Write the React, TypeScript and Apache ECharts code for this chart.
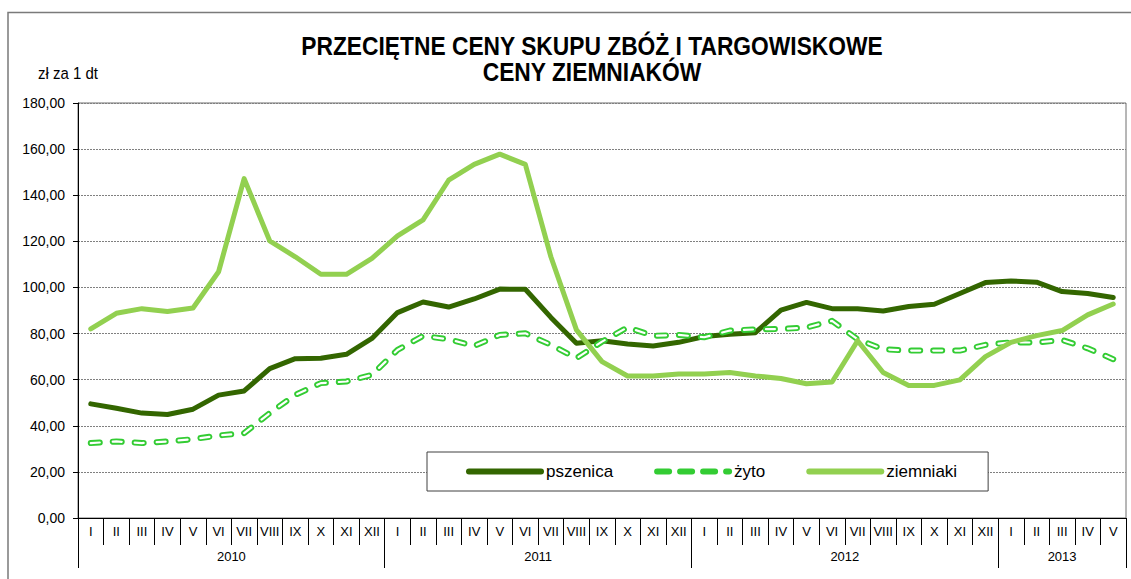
import React, { useEffect, useRef } from "react";
import * as echarts from "echarts";

const FONT = '"Liberation Sans", Arial, sans-serif';

const months = [
  "I", "II", "III", "IV", "V", "VI", "VII", "VIII", "IX", "X", "XI", "XII",
  "I", "II", "III", "IV", "V", "VI", "VII", "VIII", "IX", "X", "XI", "XII",
  "I", "II", "III", "IV", "V", "VI", "VII", "VIII", "IX", "X", "XI", "XII",
  "I", "II", "III", "IV", "V",
];
const years = ["2010", "2011", "2012", "2013"];
const monthsPerYear = [12, 12, 12, 5];

const pszenica = [
  49.5, 47.6, 45.5, 44.9, 47.2, 53.3, 55.1, 64.8, 69.1, 69.3, 71.0, 77.9,
  89.1, 93.7, 91.5, 95.0, 99.3, 99.2, 87.0, 75.8, 76.9, 75.5, 74.6, 76.2,
  78.7, 79.7, 80.4, 90.2, 93.5, 90.8, 90.8, 89.8, 91.7, 92.7, 97.4, 102.1,
  102.8, 102.3, 98.2, 97.4, 95.6,
];
const zyto = [
  32.5, 33.2, 32.5, 33.2, 34.2, 35.8, 36.8, 45.5, 53.4, 58.5, 59.2, 62.1,
  72.9, 79.0, 77.5, 74.6, 79.4, 80.1, 75.1, 69.3, 76.5, 82.7, 79.0, 79.4,
  78.4, 81.3, 81.8, 82.0, 82.6, 85.5, 77.5, 73.2, 72.6, 72.6, 72.6, 75.1,
  76.2, 76.1, 77.2, 73.6, 68.9,
];
const ziemniaki = [
  82.0, 88.8, 90.8, 89.6, 91.1, 106.8, 147.2, 120.2, 113.3, 105.7, 105.7, 112.6,
  122.4, 129.3, 146.5, 153.4, 157.8, 153.4, 113.3, 81.6, 67.8, 61.6, 61.6, 62.5,
  62.5, 63.1, 61.6, 60.5, 58.2, 59.0, 76.9, 63.1, 57.5, 57.5, 59.9, 70.0,
  76.2, 79.1, 81.3, 88.1, 92.8,
];

const seriesNames = ["pszenica", "żyto", "ziemniaki"];
const colors = ["#336600", "#33cc33", "#92d050"];
const titleLines = ["PRZECIĘTNE CENY SKUPU ZBÓŻ I TARGOWISKOWE", "CENY ZIEMNIAKÓW"];
const unitLabel = "zł za 1 dt";

export default function App() {
  const ref = useRef<HTMLDivElement>(null);

  useEffect(() => {
    if (!ref.current) return;
    const chart = echarts.init(ref.current, undefined, { renderer: "svg" });

    const yearOfMonth: string[] = [];
    const yearStarts: number[] = [];
    const yearMid: Record<number, boolean> = {};
    let idx = 0;
    years.forEach((y, k) => {
      yearStarts.push(idx);
      const n = monthsPerYear[k];
      yearMid[idx + Math.floor(n / 2) - (n % 2 === 0 ? 1 : 0)] = true;
      for (let i = 0; i < n; i++) yearOfMonth.push(y);
      idx += n;
    });
    const evenYear: Record<number, boolean> = {};
    years.forEach((_, k) => {
      if (monthsPerYear[k] % 2 === 0) evenYear[k] = true;
    });

    const titleStyle = (text: string) => ({
      text,
      align: "center",
      verticalAlign: "middle",
      fontSize: 22.8,
      fontWeight: "bold",
      fontFamily: FONT,
      fill: "#000",
    });

    const option: any = {
      animation: false,
      backgroundColor: "#ffffff",
      textStyle: { fontFamily: FONT },
      grid: {
        left: 78,
        right: 5,
        top: 103,
        bottom: 61,
        show: true,
        borderColor: "#6e6e6e",
        borderWidth: 1,
        backgroundColor: "transparent",
      },
      graphic: [
        {
          type: "rect",
          shape: { x: 8, y: 12.5, width: 1300, height: 800 },
          style: { fill: "none", stroke: "#7a7a7a", lineWidth: 1.5 },
          silent: true,
          z: -1,
        },
        { type: "text", x: 592, y: 46, scaleY: 1.12, style: titleStyle(titleLines[0]) },
        { type: "text", x: 592, y: 72, scaleY: 1.12, style: titleStyle(titleLines[1]) },
        {
          type: "text",
          x: 38,
          y: 73,
          scaleY: 1.1,
          style: {
            text: unitLabel,
            align: "left",
            verticalAlign: "middle",
            fontSize: 15,
            fontFamily: FONT,
            fill: "#000",
          },
        },
      ],
      legend: {
        data: [
          { name: seriesNames[0] },
          { name: seriesNames[1], lineStyle: { type: [12, 11], color: colors[1] } },
          { name: seriesNames[2] },
        ],
        left: 427,
        top: 452,
        itemWidth: 72,
        itemHeight: 14,
        itemGap: 41,
        padding: [11, 31, 11, 39],
        backgroundColor: "#ffffff",
        borderColor: "#404040",
        borderWidth: 1,
        borderRadius: 0,
        textStyle: { fontSize: 17, color: "#000", fontFamily: FONT },
        lineStyle: { width: 6, cap: "round" },
        itemStyle: { opacity: 0 },
        z: 10,
      },
      xAxis: [
        {
          type: "category",
          data: months,
          boundaryGap: true,
          axisLine: { show: true, lineStyle: { color: "#000", width: 1 } },
          axisTick: { show: true, interval: 0, length: 27, lineStyle: { color: "#000" } },
          axisLabel: {
            interval: 0,
            margin: 7,
            fontSize: 13,
            color: "#000",
            fontFamily: FONT,
          },
          splitLine: { show: false },
        },
        {
          type: "category",
          data: yearOfMonth,
          position: "bottom",
          boundaryGap: true,
          axisLine: { show: false },
          axisTick: {
            show: true,
            interval: (i: number) => yearStarts.indexOf(i) >= 0,
            length: 50,
            lineStyle: { color: "#000" },
          },
          axisLabel: {
            interval: (i: number) => !!yearMid[i],
            margin: 32,
            color: "#000",
            fontSize: 13,
            fontFamily: FONT,
            formatter: (v: string) => {
              const k = years.indexOf(v);
              return evenYear[k] ? "{s|" + v + "}" : "{c|" + v + "}";
            },
            rich: {
              s: { fontSize: 13, fontFamily: FONT, color: "#000", padding: [0, 0, 0, 25.6] },
              c: { fontSize: 13, fontFamily: FONT, color: "#000" },
            },
          },
          splitLine: { show: false },
        },
      ],
      yAxis: {
        type: "value",
        min: 0,
        max: 180,
        interval: 20,
        axisLine: { show: true, lineStyle: { color: "#000", width: 1 } },
        axisTick: { show: true, length: 5, lineStyle: { color: "#000" } },
        axisLabel: {
          margin: 13,
          fontSize: 14,
          color: "#000",
          fontFamily: FONT,
          formatter: (v: number) => v.toFixed(2).replace(".", ","),
        },
        splitLine: {
          show: true,
          lineStyle: { color: "#808080", width: 1, type: [2, 1] },
        },
      },
      series: [
        {
          name: seriesNames[0],
          type: "line",
          data: pszenica,
          symbol: "none",
          color: colors[0],
          lineStyle: { color: colors[0], width: 5, cap: "round", join: "round" },
          z: 2,
        },
        {
          name: seriesNames[1],
          type: "line",
          data: zyto,
          symbol: "none",
          color: colors[1],
          lineStyle: { color: colors[1], width: 6, type: [9, 13], cap: "round", join: "round" },
          z: 3,
        },
        {
          name: "żyto-wnętrze",
          type: "line",
          data: zyto,
          symbol: "none",
          color: "#ffffff",
          lineStyle: { color: "#ffffff", width: 2.2, type: [9, 13], cap: "round", join: "round" },
          z: 4,
        },
        {
          name: seriesNames[2],
          type: "line",
          data: ziemniaki,
          symbol: "none",
          color: colors[2],
          lineStyle: { color: colors[2], width: 5, cap: "round", join: "round" },
          z: 5,
        },
      ],
    };

    chart.setOption(option);
    return () => chart.dispose();
  }, []);

  return (
    <div
      ref={ref}
      style={{ position: "absolute", left: 0, top: 0, width: 1131, height: 579, background: "#fff" }}
    />
  );
}
